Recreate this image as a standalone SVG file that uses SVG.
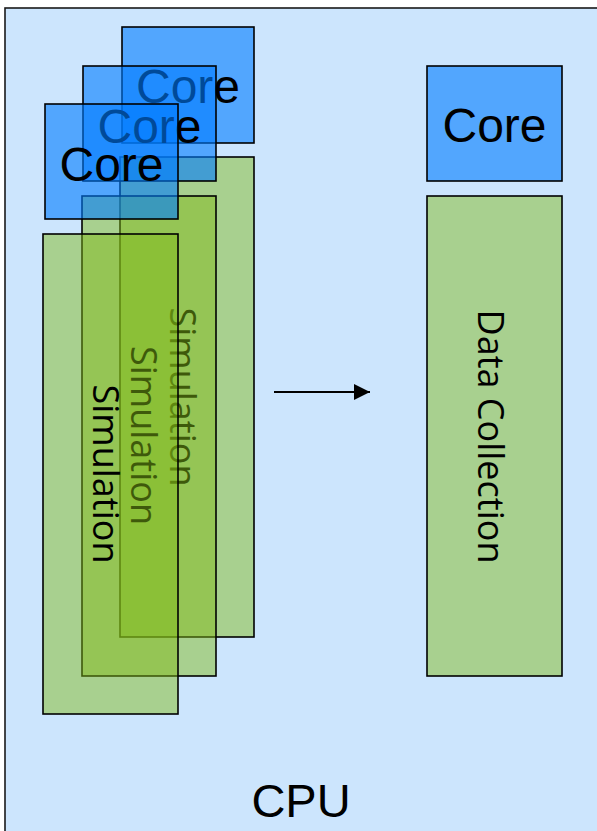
<svg xmlns="http://www.w3.org/2000/svg" width="597" height="831" viewBox="0 0 597 831">
<style>
.cpu{fill:#cce5fd;stroke:#1a1a1a;stroke-width:1.6}
.core{fill:rgb(0,124,255);fill-opacity:0.6;stroke:#000;stroke-width:1.6}
.sim{fill:rgb(129,185,22);fill-opacity:0.48;stroke:#000;stroke-width:1.6}
.ct{font-family:"Liberation Sans",Arial,sans-serif;font-size:48px;fill:#000;text-anchor:middle}
.st{font-family:"Open Sans","Noto Sans",sans-serif;font-size:36px;fill:#000;text-anchor:middle}
.conn{stroke:#000;stroke-width:1.8;fill:none}
</style>
<defs>
<marker id="ah" markerUnits="userSpaceOnUse" markerWidth="17" markerHeight="17" refX="16" refY="8" orient="auto">
<path d="M0,0 L16,8 L0,16 Z" fill="#000"/>
</marker>
</defs>
<g id="cpu">
<rect class="cpu" x="5" y="8" width="700" height="900"/>
<text class="ct" x="301" y="817" style="font-size:47px">CPU</text>
</g>
<g id="stack3">
<g id="sim3"><rect class="sim" x="120" y="157" width="134" height="480"/>
<text class="st" transform="translate(170,397) rotate(90)">Simulation</text></g>
<g id="core3"><rect class="core" x="122" y="27" width="132" height="116"/>
<text class="ct" x="188" y="103">Core</text></g>
</g>
<g id="stack2">
<g id="sim2"><rect class="sim" x="82" y="196" width="134" height="480"/>
<text class="st" transform="translate(130.5,435.5) rotate(90)">Simulation</text></g>
<g id="core2"><rect class="core" x="83" y="66" width="133" height="115"/>
<text class="ct" x="149.5" y="142.5">Core</text></g>
</g>
<g id="stack1">
<g id="sim1"><rect class="sim" x="43" y="234" width="135" height="480"/>
<text class="st" transform="translate(92.5,474) rotate(90)">Simulation</text></g>
<g id="core1"><rect class="core" x="45" y="104" width="133" height="115"/>
<text class="ct" x="111.5" y="181">Core</text></g>
</g>
<g id="core-right"><rect class="core" x="427" y="66" width="135" height="115"/>
<text class="ct" x="494.5" y="142">Core</text></g>
<g id="data-collection"><rect class="sim" x="427" y="196" width="135" height="480"/>
<text class="st" transform="translate(477.5,436.5) rotate(90)">Data Collection</text></g>
<g id="connectors">
<line class="conn" x1="274" y1="392" x2="370" y2="392" marker-end="url(#ah)"/>
</g>
</svg>
